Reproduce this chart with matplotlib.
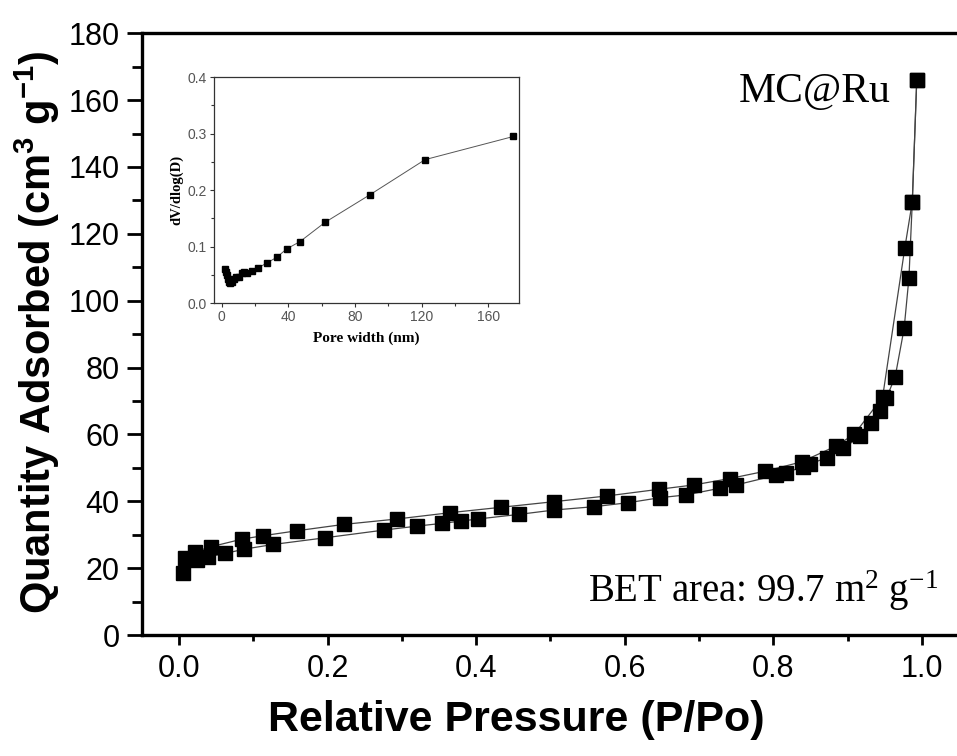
import matplotlib.pyplot as plt
from matplotlib.ticker import MultipleLocator

# isotherm, adsorption branch (lower)
ads_p = [0.005, 0.024, 0.039, 0.062, 0.088, 0.127, 0.197, 0.276, 0.321, 0.354,
         0.380, 0.402, 0.458, 0.505, 0.559, 0.605, 0.648, 0.682, 0.728, 0.750,
         0.804, 0.817, 0.840, 0.849, 0.872, 0.894, 0.917, 0.932, 0.944, 0.952,
         0.964, 0.976, 0.9825, 0.987, 0.993]
ads_q = [18.6, 22.4, 23.4, 24.4, 25.7, 27.1, 29.1, 31.4, 32.6, 33.4,
         34.1, 34.7, 36.1, 37.4, 38.4, 39.6, 41.1, 41.9, 43.9, 44.9,
         47.8, 48.6, 50.3, 51.1, 53.1, 55.8, 59.5, 63.3, 67.1, 70.8,
         77.3, 91.7, 106.9, 129.6, 166.0]

# desorption branch (upper)
des_p = [0.993, 0.987, 0.977, 0.947, 0.909, 0.884, 0.838, 0.789, 0.741, 0.693,
         0.646, 0.576, 0.505, 0.433, 0.365, 0.293, 0.222, 0.159, 0.113, 0.085,
         0.043, 0.0215, 0.008]
des_q = [166.0, 129.6, 115.9, 71.1, 60.1, 56.5, 51.8, 49.0, 46.8, 44.9,
         43.6, 41.6, 39.9, 38.2, 36.6, 34.7, 33.1, 31.2, 29.7, 28.7,
         26.4, 24.9, 22.9]

# pore size distribution (inset)
pore_w = [2.0, 2.4, 3.0, 3.6, 4.2, 5.0, 6.0, 7.2, 8.8, 10.5, 12.0, 13.5, 15.0,
          18.0, 21.6, 27.0, 33.0, 39.0, 47.0, 62.0, 89.0, 122.0, 175.0]
dv = [0.061, 0.056, 0.050, 0.043, 0.038, 0.035, 0.037, 0.042, 0.046, 0.047,
      0.054, 0.055, 0.053, 0.057, 0.062, 0.071, 0.081, 0.096, 0.109, 0.143,
      0.192, 0.254, 0.295]

sans = 'Liberation Sans'
serif = 'Liberation Serif'

fig = plt.figure(figsize=(9.57, 7.56), dpi=100)
ax = fig.add_axes([0.1482, 0.160, 0.854, 0.796])

line_kw = dict(color='#444444', lw=0.9)
ax.plot(ads_p, ads_q, **line_kw)
ax.plot(des_p, des_q, **line_kw)
ax.plot(ads_p, ads_q, 's', color='black', ms=9.5, ls='none')
ax.plot(des_p, des_q, 's', color='black', ms=9.5, ls='none')

ax.set_xlim(-0.05, 1.05)
ax.set_ylim(0, 180)
ax.xaxis.set_minor_locator(MultipleLocator(0.1))
ax.yaxis.set_major_locator(MultipleLocator(20))
ax.yaxis.set_minor_locator(MultipleLocator(10))
ax.set_xticks([0.0, 0.2, 0.4, 0.6, 0.8, 1.0])
ax.set_xticklabels(['0.0', '0.2', '0.4', '0.6', '0.8', '1.0'])

for s in ax.spines.values():
    s.set_linewidth(2.4)
ax.tick_params(axis='x', which='major', direction='out', length=7, width=2, pad=7)
ax.tick_params(axis='x', which='minor', direction='out', length=4, width=2)
ax.tick_params(axis='y', which='major', direction='out', length=11, width=2, pad=5)
ax.tick_params(axis='y', which='minor', direction='out', length=7, width=2)
for lab in ax.get_xticklabels() + ax.get_yticklabels():
    lab.set_fontfamily(sans)
    lab.set_fontsize(22)

fig.text(0.039, 0.560, r'Quantity Adsorbed (cm$\mathregular{^3}$ g$\mathregular{^{-1}}$)',
         rotation=90, ha='center', va='center', family=sans,
         fontweight='bold', fontsize=30)
fig.text(0.540, 0.048, 'Relative Pressure (P/Po)', ha='center', va='center',
         family=sans, fontweight='bold', fontsize=31)

ax.text(0.73, 0.885, 'MC@Ru', transform=ax.transAxes,
        family=serif, fontsize=30, ha='left', va='baseline')
ax.text(0.546, 0.055, r'BET area: 99.7 m$\mathregular{^2}$ g$\mathregular{^{-1}}$',
        transform=ax.transAxes, family=serif, fontsize=28, ha='left', va='baseline')

# inset
ins = fig.add_axes([0.2236, 0.599, 0.3187, 0.299])
ins.plot(pore_w, dv, '-', color='#555555', lw=0.7)
ins.plot(pore_w, dv, 's', color='black', ms=4, ls='none')
ins.set_xlim(-4.6, 178.3)
ins.set_ylim(0, 0.4)
ins.xaxis.set_major_locator(MultipleLocator(40))
ins.xaxis.set_minor_locator(MultipleLocator(20))
ins.yaxis.set_minor_locator(MultipleLocator(0.05))
ins.set_yticks([0.0, 0.1, 0.2, 0.3, 0.4])
ins.set_yticklabels(['0.0', '0.1', '0.2', '0.3', '0.4'])
for s in ins.spines.values():
    s.set_linewidth(0.9)
    s.set_color('#333333')
ins.tick_params(which='major', direction='out', length=3, width=0.8,
                labelsize=10, labelcolor='#555555', colors='#333333', pad=2)
ins.tick_params(which='minor', direction='out', length=2, width=0.8, colors='#333333')
for lab in ins.get_xticklabels() + ins.get_yticklabels():
    lab.set_fontfamily(sans)
ins.set_xlabel('Pore width (nm)', family=serif, fontweight='bold',
               fontsize=11, labelpad=5)
ins.set_ylabel('dV/dlog(D)', family=serif, fontweight='bold',
               fontsize=10.5, labelpad=3)

fig.savefig('out.png', dpi=100)
